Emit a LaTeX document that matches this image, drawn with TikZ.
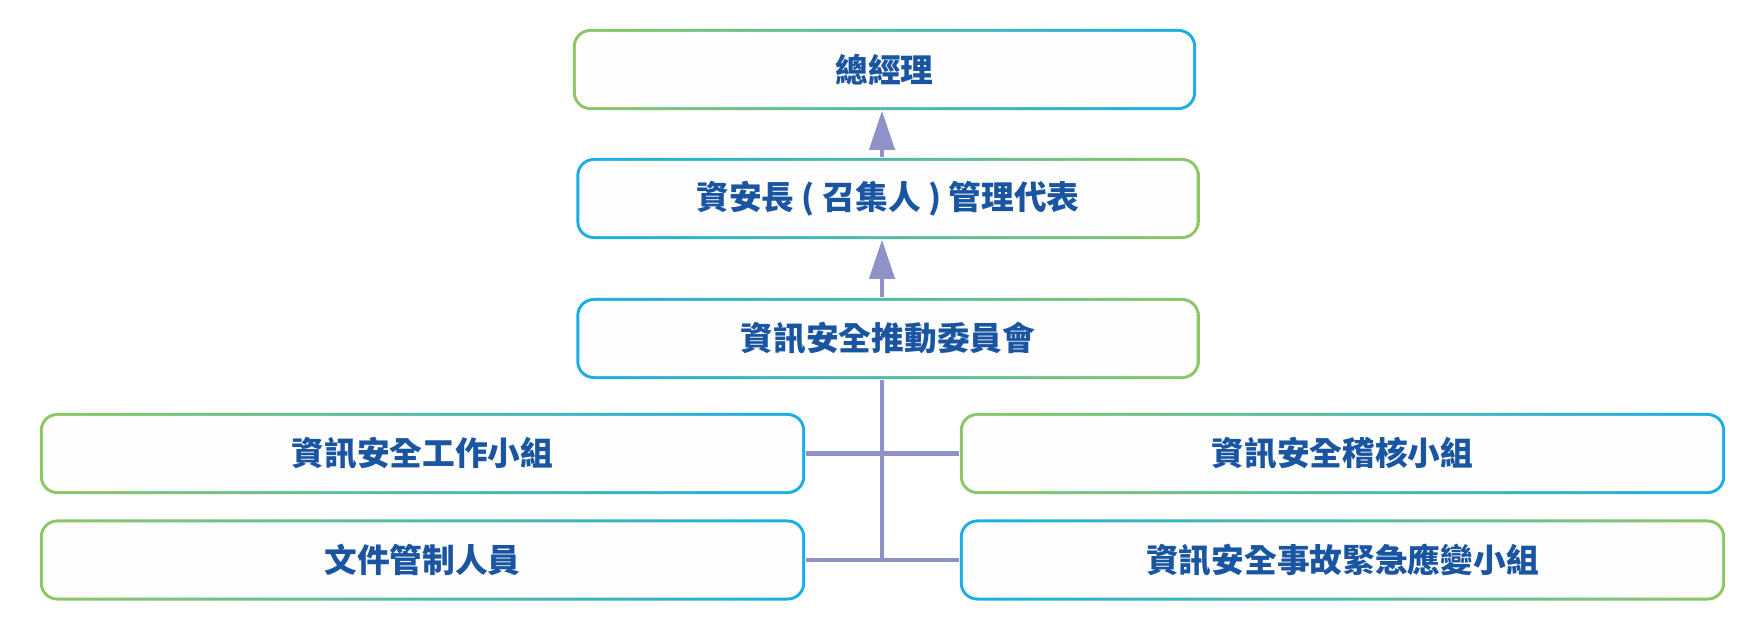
\documentclass[tikz,border=0pt]{standalone}
\usepackage{fontspec}
\newfontfamily\cjk{Noto Sans CJK TC}
\usetikzlibrary{arrows.meta}
\definecolor{grn}{HTML}{8DC764}
\definecolor{blu}{HTML}{19AEE5}
\definecolor{txtblue}{HTML}{1A55A2}
\definecolor{lnk}{HTML}{8E92C8}
\tikzset{
  orgbox/.style={rounded corners=5pt, inner sep=0pt, text=txtblue,
    font=\cjk\bfseries\fontsize{9.3}{11}\selectfont,
    path picture={
      \shade[left color=edgeL, right color=edgeR] (path picture bounding box.south west) rectangle (path picture bounding box.north east);
      \fill[white!99!gray, rounded corners=4.2pt] ([shift={(0.85pt,0.85pt)}]path picture bounding box.south west) rectangle ([shift={(-0.85pt,-0.85pt)}]path picture bounding box.north east);
    }},
  gb/.style={orgbox, /utils/exec={\colorlet{edgeL}{grn}\colorlet{edgeR}{blu}}},
  bg/.style={orgbox, /utils/exec={\colorlet{edgeL}{blu}\colorlet{edgeR}{grn}}},
  midbox/.style={minimum width=6.23cm, minimum height=0.81cm},
  sidebox/.style={minimum width=7.65cm, minimum height=0.81cm},
  link/.style={draw=lnk, line width=1.15pt},
}
\begin{document}
\begin{tikzpicture}[x=0.01cm, y=-0.01cm]
  \useasboundingbox (0,0) rectangle (1759,627);
  \coordinate (trunk) at (882,0);
  % middle column
  \node[gb, midbox] (gm)   at (884.5,69.5) {總經理};
  \node[bg, midbox] (ciso) at (888,198.5)  {資安長 ( 召集人 ) 管理代表};
  \node[bg, midbox] (comm) at (888,338.5)  {資訊安全推動委員會};
  % side units
  \node[gb, sidebox] (work)  at (422.5,453.5)  {資訊安全工作小組};
  \node[gb, sidebox] (doc)   at (422.5,560)    {文件管制人員};
  \node[gb, sidebox] (audit) at (1342.5,453.5) {資訊安全稽核小組};
  \node[bg, sidebox] (emerg) at (1342.5,560)   {資訊安全事故緊急應變小組};
  % connectors
  \draw[link, -{Triangle[length=3.9mm, width=2.5mm]}] (ciso.north -| trunk) -- (gm.south -| trunk);
  \draw[link, -{Triangle[length=3.9mm, width=2.5mm]}] (comm.north -| trunk) -- (ciso.south -| trunk);
  \draw[link] (comm.south -| trunk) -- (trunk |- doc.east);
  \draw[link] (work.east) -- (audit.west);
  \draw[link] (doc.east) -- (emerg.west);
\end{tikzpicture}
\end{document}
